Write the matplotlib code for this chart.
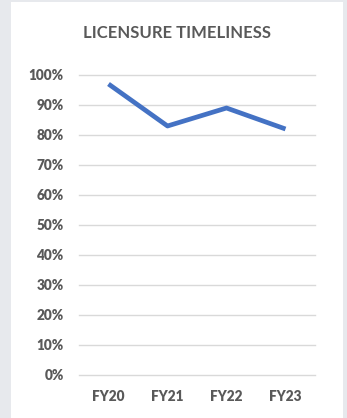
import matplotlib
matplotlib.use("Agg")
import matplotlib.pyplot as plt
from matplotlib.patches import Rectangle

categories = ["FY20", "FY21", "FY22", "FY23"]
values = [0.97, 0.83, 0.89, 0.82]
yticks = [i / 10 for i in range(11)]
ytick_labels = [f"{i*10}%" for i in range(11)]
title = "LICENSURE TIMELINESS"

W, H = 347, 418
fig = plt.figure(figsize=(W / 100, H / 100), dpi=100)
fig.patch.set_facecolor("#e7e9ed")
fig.patches.append(Rectangle((11 / W, 0), (343 - 11) / W, (418 - 2) / H,
                             transform=fig.transFigure, facecolor="white",
                             edgecolor="none", zorder=-5))

ax = fig.add_axes([79 / W, (418 - 375) / H, 236 / W, 300 / H])
ax.set_facecolor("none")
ax.set_zorder(2)
x = list(range(len(categories)))
ax.plot(x, values, color="#4472C4", lw=3.4, solid_capstyle="butt", zorder=3)
ax.set_xlim(-0.5, len(categories) - 0.5)
ax.set_ylim(0, 1)
ax.set_yticks(yticks)
ax.set_yticklabels(ytick_labels)
ax.set_xticks(x)
ax.set_xticklabels(categories)
for y in yticks:
    ax.axhline(y, color="#d9d9d9", lw=1.0, zorder=1, clip_on=False)
for s in ax.spines.values():
    s.set_visible(False)
ax.tick_params(length=0, colors="#595959")
ax.tick_params(axis="y", pad=11)
ax.tick_params(axis="x", pad=11)
for lab in ax.get_yticklabels() + ax.get_xticklabels():
    lab.set_fontfamily("Lato")
    lab.set_fontweight("heavy")
    lab.set_fontsize(9.8)
fig.text(177 / W, 1 - 33 / H, title, ha="center", va="center",
         fontfamily="Lato", fontweight="bold", fontsize=12, color="#595959",
         zorder=3)
fig.savefig("out.png", dpi=100)
